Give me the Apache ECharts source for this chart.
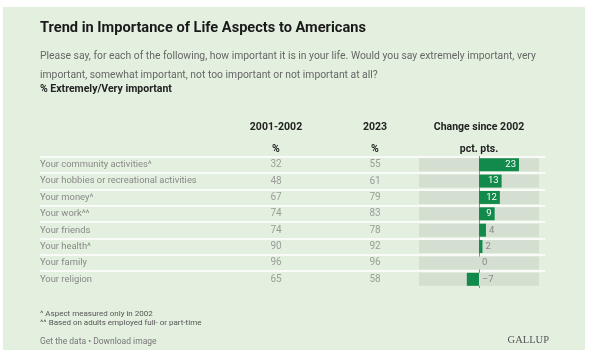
<!DOCTYPE html>
<html><head><meta charset="utf-8">
<script src="https://cdn.jsdelivr.net/npm/echarts@6/dist/echarts.min.js"></script>
<style>html,body{margin:0;padding:0;background:#fff}#c{width:594px;height:356px}</style>
</head><body><div id="c"></div>
<script>
const categories = [
  'Your community activities^',
  'Your hobbies or recreational activities',
  'Your money^',
  'Your work^^',
  'Your friends',
  'Your health^',
  'Your family',
  'Your religion'
];
const columnHeaders = ['2001-2002', '2023'];
const values2002 = [32, 48, 67, 74, 74, 90, 96, 65];
const values2023 = [55, 61, 79, 83, 78, 92, 96, 58];
const changes = [23, 13, 12, 9, 4, 2, 0, -7];

const FONT = 'Roboto, "Noto Sans", sans-serif';
const GREEN = '#128a4c';
const gridTop = 156.5, gridH = 131;

const tableData = [];
values2002.forEach((v, i) => tableData.push([columnHeaders[0], categories[i], v]));
values2023.forEach((v, i) => tableData.push([columnHeaders[1], categories[i], v]));

const barData = changes.map(v => ({
  value: v,
  label: v >= 8
    ? { position: 'insideRight', color: '#fff', distance: 3 }
    : { position: 'right', color: '#888', distance: 3 }
}));

const chart = echarts.init(document.getElementById('c'));
chart.setOption({
  backgroundColor: '#fff',
  animation: false,
  textStyle: { fontFamily: FONT },
  graphic: { elements: [
    { type: 'rect', z: -100, silent: true, shape: { x: 3, y: 7, width: 582, height: 343 }, style: { fill: '#e3f0df' } }
  ]},
  title: [
    { text: 'Trend in Importance of Life Aspects to Americans', left: 40, top: 21, padding: 0,
      textStyle: { fontSize: 14.6, fontWeight: 'bold', color: '#1a1a1a', fontFamily: FONT } },
    { text: 'Please say, for each of the following, how important it is in your life. Would you say extremely important, very\nimportant, somewhat important, not too important or not important at all?',
      left: 40, top: 47, padding: 0, textStyle: { fontSize: 10.35, fontWeight: 'normal', color: '#666', lineHeight: 19, fontFamily: FONT } },
    { text: '% Extremely/Very important', left: 40, top: 84, padding: 0,
      textStyle: { fontSize: 10.5, fontWeight: 'bold', color: '#222', fontFamily: FONT } },
    { text: '^ Aspect measured only in 2002\n^^ Based on adults employed full- or part-time', left: 40, top: 309, padding: 0,
      textStyle: { fontSize: 8, fontWeight: 'normal', color: '#555', lineHeight: 9, fontFamily: FONT } },
    { text: 'Get the data • Download image', left: 40, top: 337, padding: 0,
      textStyle: { fontSize: 8.5, fontWeight: 'normal', color: '#777', fontFamily: FONT } },
    { text: 'GALLUP', right: 45, top: 335, padding: 0,
      textStyle: { fontSize: 10.5, fontWeight: 'normal', color: '#555', fontFamily: '"Liberation Serif", "DejaVu Serif", serif' } }
  ],
  grid: [
    { left: 419, width: 120, top: gridTop, height: gridH },
    { left: 226.5, width: 198, top: gridTop, height: gridH },
    { left: 40, width: 505, top: gridTop, height: gridH }
  ],
  xAxis: [
    { gridIndex: 0, type: 'value', min: -34.5, max: 34.5, position: 'top',
      axisLine: { show: false }, axisTick: { show: false }, axisLabel: { show: false }, splitLine: { show: false },
      name: 'Change since 2002\npct. pts.', nameLocation: 'middle', nameGap: -4,
      nameTextStyle: { fontSize: 10.5, fontWeight: 'bold', color: '#222', lineHeight: 22, verticalAlign: 'bottom' } },
    { gridIndex: 1, type: 'category', data: columnHeaders, position: 'top',
      axisLine: { show: false }, axisTick: { show: false }, splitLine: { show: false },
      axisLabel: { margin: -4, fontSize: 10.5, fontWeight: 'bold', color: '#222', lineHeight: 22,
        formatter: v => v + '\n%' } },
    { gridIndex: 2, type: 'value', show: false, min: 0, max: 1 }
  ],
  yAxis: [
    { gridIndex: 0, type: 'category', data: categories, inverse: true,
      axisLine: { show: true, onZero: true, lineStyle: { color: '#888', width: 1 } },
      axisTick: { show: false }, axisLabel: { show: false }, splitLine: { show: false } },
    { gridIndex: 1, type: 'category', data: categories, inverse: true, show: false },
    { gridIndex: 2, type: 'category', data: categories, inverse: true,
      axisLine: { show: false }, axisTick: { show: false },
      axisLabel: { inside: true, margin: 0, fontSize: 9.4, color: '#888' },
      splitLine: { show: true, showMaxLine: false, lineStyle: { color: '#fff', width: 1.5 } } }
  ],
  series: [
    { type: 'bar', xAxisIndex: 0, yAxisIndex: 0, data: barData, barWidth: 13,
      itemStyle: { color: GREEN },
      showBackground: true, backgroundStyle: { color: '#d4ded1' },
      label: { show: true, fontSize: 9.5, formatter: p => p.value < 0 ? '\u2013' + Math.abs(p.value) : String(p.value) },
      z: 3 },
    { type: 'scatter', xAxisIndex: 1, yAxisIndex: 1, data: tableData,
      symbolSize: 1, itemStyle: { color: 'rgba(0,0,0,0)' },
      label: { show: true, position: 'inside', fontSize: 10, color: '#888', formatter: p => String(p.value[2]) } }
  ]
});
</script>
</body></html>
